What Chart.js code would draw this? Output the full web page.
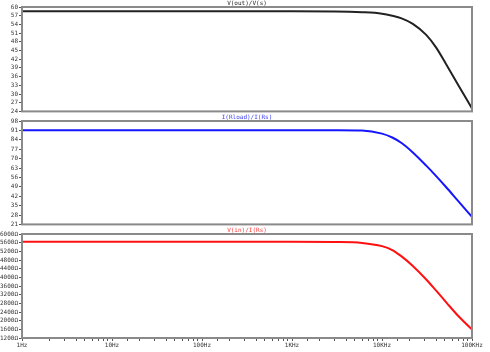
<!DOCTYPE html>
<html>
<head>
<meta charset="utf-8">
<script src="https://cdn.jsdelivr.net/npm/chart.js@4.4.1/dist/chart.umd.min.js"></script>
<style>
  html, body { margin: 0; padding: 0; background: #fff; }
  #wrap { position: relative; width: 490px; height: 352px; overflow: hidden; }
  canvas { position: absolute; left: 0; }
</style>
</head>
<body>
<div id="wrap">
  <canvas id="cGain"  style="top:0px"></canvas>
  <canvas id="cLoad"  style="top:114px"></canvas>
  <canvas id="cZin"   style="top:227px"></canvas>
</div>
<script>
/* ---- data ---- */
const freqs     = [1, 10, 100, 1000, 3000, 6000, 10000, 13000, 16500, 22000, 31000, 40000, 52000, 70000, 100000];
const vGain     = [58.5, 58.5, 58.5, 58.5, 58.45, 58.2, 57.7, 57.0, 56.1, 54.2, 50.4, 46.0, 40.1, 33.2, 25.0];
const iRatio    = [91.2, 91.2, 91.2, 91.2, 91.1, 90.9, 88.6, 85.7, 81.6, 74.6, 64.8, 57.0, 48.5, 38.5, 26.6];
const zIn       = [5640, 5640, 5640, 5640, 5630, 5590, 5440, 5260, 4966, 4525, 3902, 3384, 2837, 2226, 1590];

const freqLabels = { 1: "1Hz", 10: "10Hz", 100: "100Hz", 1000: "1KHz", 10000: "10KHz", 100000: "100KHz" };

const MONO = "'DejaVu Sans Mono', monospace";

// frame round the plot area
const framePlugin = {
  id: "frame",
  afterDraw(chart) {
    const a = chart.chartArea, ctx = chart.ctx;
    ctx.save();
    ctx.strokeStyle = "#8a8a8a";
    ctx.lineWidth = 2;
    ctx.strokeRect(a.left, a.top, a.right - a.left, a.bottom - a.top);
    ctx.restore();
  }
};

function makePanel(id, h, title, titleColor, values, lineColor, yMin, yMax, yStep, ySuffix, showX) {
  const canvas = document.getElementById(id);
  canvas.width = 490;
  canvas.height = h;
  canvas.style.width = "490px";
  canvas.style.height = h + "px";

  return new Chart(canvas, {
    type: "line",
    data: {
      datasets: [{
        data: freqs.map((f, i) => ({ x: f, y: values[i] })),
        borderColor: lineColor,
        borderWidth: 2,
        pointRadius: 0,
        cubicInterpolationMode: "monotone",
        fill: false
      }]
    },
    options: {
      responsive: false,
      animation: false,
      layout: { padding: { left: 0, right: 18, top: 0, bottom: showX ? 0 : 3 } },
      plugins: {
        legend: { display: false },
        tooltip: { enabled: false },
        title: {
          display: true,
          text: title,
          color: titleColor,
          fullSize: false,
          font: { family: MONO, size: 6, weight: "normal", lineHeight: 1 },
          padding: { top: 0, bottom: 1 }
        }
      },
      scales: {
        x: {
          type: "logarithmic",
          min: 1,
          max: 100000,
          display: showX,
          afterFit: s => { s.height = showX ? 14 : 0; },
          border: { display: false },
          grid: { drawOnChartArea: false, tickLength: 3, color: "#555" },
          ticks: {
            autoSkip: false,
            maxRotation: 0,
            padding: 1,
            color: "#333",
            font: { family: MONO, size: 6 },
            callback: v => freqLabels[v] || ""
          }
        },
        y: {
          min: yMin,
          max: yMax,
          afterFit: s => { s.width = 22; },
          border: { display: false },
          grid: { drawOnChartArea: false, tickLength: 3, color: "#555" },
          ticks: {
            stepSize: yStep,
            autoSkip: false,
            padding: 1,
            color: "#333",
            font: { family: MONO, size: 6 },
            callback: v => v + ySuffix
          }
        }
      }
    },
    plugins: [framePlugin]
  });
}

makePanel("cGain", 116, "V(out)/V(s)",    "#222222", vGain,  "#222222", 24, 60, 3, "", false);
makePanel("cLoad", 115, "I(Rload)/I(Rs)", "#3b3bff", iRatio, "#1515ff", 21, 98, 7, "", false);
makePanel("cZin",  125, "V(in)/I(Rs)",    "#ff3b3b", zIn,    "#ff1010", 1200, 6000, 400, "Ω", true);
</script>
</body>
</html>
